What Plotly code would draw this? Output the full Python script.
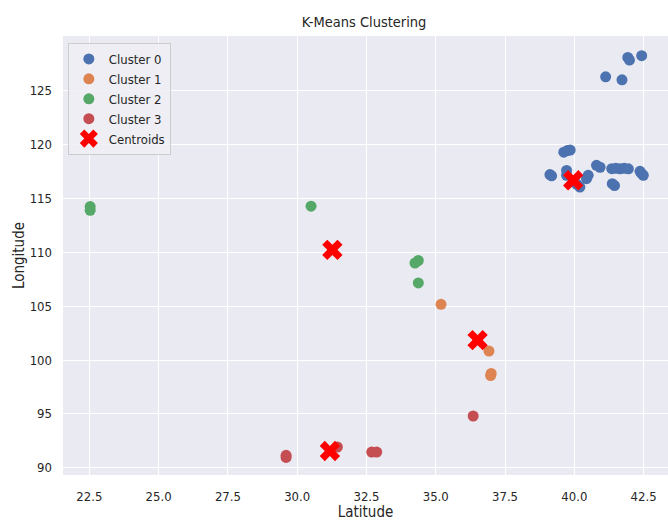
import plotly.graph_objects as go

# ---- data ----
cluster0_lat = [39.12, 39.18, 39.62, 39.75, 39.85, 39.72, 39.72, 40.02, 40.20, 40.10, 40.44, 40.50,
                40.80, 40.93, 41.35, 41.50, 41.65, 41.80, 41.95, 41.37, 41.45, 42.37, 42.43, 42.49,
                41.13, 41.72, 41.93, 41.99, 42.43]
cluster0_lon = [117.22, 117.10, 119.30, 119.45, 119.50, 117.60, 117.15, 116.50, 116.06, 116.30, 116.84, 117.15,
                118.08, 117.90, 117.77, 117.80, 117.75, 117.80, 117.75, 116.37, 116.20, 117.52, 117.30, 117.15,
                126.30, 126.02, 128.10, 127.85, 128.26]
cluster1_lat = [35.19, 36.92, 36.98, 37.00]
cluster1_lon = [105.17, 100.83, 98.55, 98.75]
cluster2_lat = [22.53, 22.53, 30.50, 34.25, 34.37, 34.37]
cluster2_lon = [114.25, 113.90, 114.29, 109.00, 109.24, 107.16]
cluster3_lat = [36.35, 29.60, 29.60, 31.45, 32.69, 32.87]
cluster3_lon = [94.80, 91.15, 90.95, 91.92, 91.45, 91.45]
centroid_lat = [39.96, 36.51, 31.27, 31.18]
centroid_lon = [116.69, 101.85, 110.23, 91.55]

cluster_names = ["Cluster 0", "Cluster 1", "Cluster 2", "Cluster 3"]
cluster_colors = ["#4C72B0", "#DD8452", "#55A868", "#C44E52"]
x_ticks = [22.5, 25.0, 27.5, 30.0, 32.5, 35.0, 37.5, 40.0, 42.5]
y_ticks = [90, 95, 100, 105, 110, 115, 120, 125]

FONT = "DejaVu Sans Condensed, Liberation Sans Narrow, DejaVu Sans, sans-serif"

fig = go.Figure()
lats = [cluster0_lat, cluster1_lat, cluster2_lat, cluster3_lat]
lons = [cluster0_lon, cluster1_lon, cluster2_lon, cluster3_lon]
for name, color, la, lo in zip(cluster_names, cluster_colors, lats, lons):
    fig.add_trace(go.Scatter(x=la, y=lo, mode="markers", name=name,
                             marker=dict(color=color, size=11, line=dict(width=0))))
fig.add_trace(go.Scatter(x=centroid_lat, y=centroid_lon, mode="markers", name="Centroids",
                         marker=dict(color="red", size=18, symbol="x", line=dict(width=0))))

fig.update_layout(
    width=668, height=521,
    margin=dict(l=63, r=0, t=36, b=46),
    paper_bgcolor="white",
    plot_bgcolor="#EAEAF2",
    font=dict(family=FONT, size=13, color="#262626"),
    title=dict(text="K-Means Clustering", x=0.545, xanchor="center", y=0.958, yanchor="middle",
               font=dict(family=FONT, size=14.5, color="#262626")),
    legend=dict(x=0.008, y=0.984, xanchor="left", yanchor="top",
                bgcolor="rgba(238,238,244,0.85)", bordercolor="#CCCCCC", borderwidth=1,
                font=dict(family=FONT, size=13, color="#262626"),
                itemsizing="trace", tracegroupgap=0),
    showlegend=True,
)
fig.update_xaxes(range=[21.55, 43.38], tickvals=x_ticks, ticktext=[f"{v:.1f}" for v in x_ticks],
                 showgrid=True, gridcolor="white", gridwidth=1.3, zeroline=False, showline=False,
                 ticks="", ticklabelstandoff=12,
                 title=dict(text="Latitude", font=dict(family=FONT, size=15, color="#262626"), standoff=4))
fig.update_yaxes(range=[89.32, 130.09], tickvals=y_ticks,
                 showgrid=True, gridcolor="white", gridwidth=1.3, zeroline=False, showline=False,
                 ticks="", ticklabelstandoff=10,
                 title=dict(text="Longitude", font=dict(family=FONT, size=15, color="#262626"), standoff=1))

fig.write_html("out.html")
